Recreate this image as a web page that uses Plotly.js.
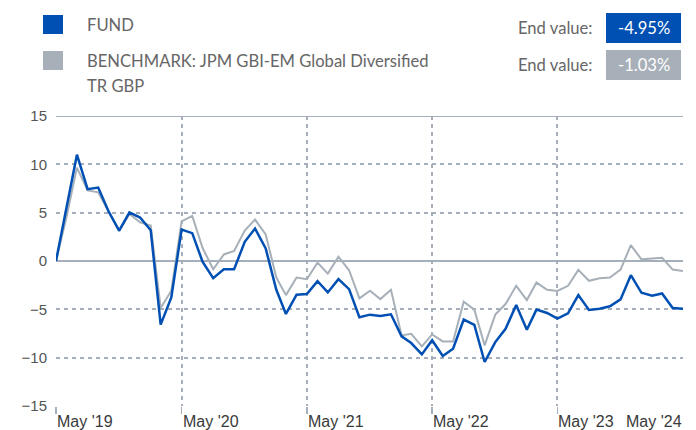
<!DOCTYPE html>
<html>
<head>
<meta charset="utf-8">
<script src="https://cdn.plot.ly/plotly-3.0.1.min.js"></script>
<style>
html,body{margin:0;padding:0;background:#fff;}
#chart{width:696px;height:430px;}
</style>
</head>
<body>
<div id="chart"></div>
<script>
// ---- data ----
const months = [
 "2019-05-01","2019-06-01","2019-07-01","2019-08-01","2019-09-01","2019-10-01","2019-11-01","2019-12-01",
 "2020-01-01","2020-02-01","2020-03-01","2020-04-01","2020-05-01","2020-06-01","2020-07-01","2020-08-01",
 "2020-09-01","2020-10-01","2020-11-01","2020-12-01","2021-01-01","2021-02-01","2021-03-01","2021-04-01",
 "2021-05-01","2021-06-01","2021-07-01","2021-08-01","2021-09-01","2021-10-01","2021-11-01","2021-12-01",
 "2022-01-01","2022-02-01","2022-03-01","2022-04-01","2022-05-01","2022-06-01","2022-07-01","2022-08-01",
 "2022-09-01","2022-10-01","2022-11-01","2022-12-01","2023-01-01","2023-02-01","2023-03-01","2023-04-01",
 "2023-05-01","2023-06-01","2023-07-01","2023-08-01","2023-09-01","2023-10-01","2023-11-01","2023-12-01",
 "2024-01-01","2024-02-01","2024-03-01","2024-04-01","2024-05-01"
];
const fund = [
 0, 5.5, 11.0, 7.43, 7.6, 5.14, 3.15, 5.03, 4.5, 3.18, -6.58, -3.77,
 3.25, 2.88, -0.07, -1.78, -0.86, -0.86, 1.99, 3.36, 1.3, -2.98, -5.48, -3.49,
 -3.42, -2.09, -3.25, -1.88, -2.91, -5.82, -5.55, -5.68, -5.51, -7.8, -8.49, -9.66,
 -8.2, -9.83, -9.08, -6.06, -6.61, -10.45, -8.39, -7.02, -4.55, -7.12, -5.03, -5.38,
 -5.96, -5.41, -3.53, -5.07, -4.93, -4.69, -3.97, -1.47, -3.29, -3.6, -3.36, -4.86, -4.95
];
const benchmark = [
 0, 4.6, 9.66, 7.3, 7.1, 5.1, 3.1, 4.86, 4.0, 3.66, -4.86, -3.08,
 4.1, 4.66, 1.37, -0.86, 0.68, 1.03, 3.15, 4.28, 2.74, -1.71, -3.53, -1.71,
 -1.88, -0.17, -1.3, 0.45, -0.96, -3.87, -3.08, -3.94, -2.98, -7.7, -7.53, -8.84,
 -7.6, -8.32, -8.32, -4.21, -5.03, -8.73, -5.55, -4.45, -2.57, -4.04, -2.23, -2.98,
 -3.1, -2.57, -0.92, -2.05, -1.78, -1.71, -0.89, 1.64, 0.17, 0.27, 0.34, -0.89, -1.03
];
const seriesNames = ["FUND", "BENCHMARK: JPM GBI-EM Global Diversified", "TR GBP"];
const endValues = ["-4.95%", "-1.03%"];
const tickDates = ["2019-05-01","2020-05-01","2021-05-01","2022-05-01","2023-05-01","2024-05-01"];
const tickLabels = ["May '19","May '20","May '21","May '22","May '23","May '24"];
const yTicks = [-15,-10,-5,0,5,10,15];

// ---- style ----
const BLUE = "#0050B4", GREY = "#A7B0B9", GRID = "#A5AFBB";
const L = 56, R = 683, T = 116, B = 406;
const px = x => (x - L) / (R - L);
const py = y => (B - y) / (B - T);
const legendFont = {family: "Lato, 'Noto Sans', sans-serif", size: 16.6, color: "#666"};

const traces = [
  {x: months, y: benchmark, type: "scatter", mode: "lines", name: seriesNames[1],
   line: {color: GREY, width: 2}, hoverinfo: "skip"},
  {x: months, y: fund, type: "scatter", mode: "lines", name: seriesNames[0],
   line: {color: BLUE, width: 2.5}, hoverinfo: "skip"}
];

const annotations = tickLabels.map((t, i) => ({
  x: tickDates[i], xref: "x", y: py(421), yref: "paper",
  text: t, showarrow: false,
  xanchor: i === tickLabels.length - 1 ? "right" : "left", yanchor: "middle",
  xshift: i === tickLabels.length - 1 ? 1 : -1,
  font: {family: "'Liberation Sans', Arial, sans-serif", size: 16, color: "#3a3a3a"}
}));
annotations.push(
  {x: px(85), y: py(25), xref: "paper", yref: "paper", text: seriesNames[0], showarrow: false,
   xanchor: "left", yanchor: "middle", font: legendFont},
  {x: px(85), y: py(61), xref: "paper", yref: "paper", text: seriesNames[1], showarrow: false,
   xanchor: "left", yanchor: "middle", font: legendFont},
  {x: px(85), y: py(86), xref: "paper", yref: "paper", text: seriesNames[2], showarrow: false,
   xanchor: "left", yanchor: "middle", font: legendFont},
  {x: px(594), y: py(28), xref: "paper", yref: "paper", text: "End value:", showarrow: false,
   xanchor: "right", yanchor: "middle", font: legendFont},
  {x: px(594), y: py(65), xref: "paper", yref: "paper", text: "End value:", showarrow: false,
   xanchor: "right", yanchor: "middle", font: legendFont},
  {x: px(643.5), y: py(28), xref: "paper", yref: "paper", text: endValues[0], showarrow: false,
   xanchor: "center", yanchor: "middle", font: {family: legendFont.family, size: 16.6, color: "#fff"}},
  {x: px(643.5), y: py(65), xref: "paper", yref: "paper", text: endValues[1], showarrow: false,
   xanchor: "center", yanchor: "middle", font: {family: legendFont.family, size: 16.6, color: "#fff"}}
);

const shapes = [
  {type: "line", xref: "paper", x0: 0, x1: 1, yref: "y", y0: 15, y1: 15,
   line: {color: GRID, width: 2}, layer: "below"},
  {type: "rect", xref: "paper", yref: "paper", x0: px(43), x1: px(63), y0: py(34), y1: py(15),
   fillcolor: BLUE, line: {width: 0}},
  {type: "rect", xref: "paper", yref: "paper", x0: px(43), x1: px(63), y0: py(70), y1: py(51),
   fillcolor: GREY, line: {width: 0}},
  {type: "rect", xref: "paper", yref: "paper", x0: px(606), x1: px(681), y0: py(43), y1: py(13),
   fillcolor: BLUE, line: {width: 0}},
  {type: "rect", xref: "paper", yref: "paper", x0: px(606), x1: px(681), y0: py(80), y1: py(50),
   fillcolor: GREY, line: {width: 0}}
];

const layout = {
  width: 696, height: 430,
  margin: {l: L, r: 696 - R, t: T, b: 430 - B, pad: 0},
  paper_bgcolor: "#fff", plot_bgcolor: "#fff",
  showlegend: false,
  xaxis: {
    type: "date", range: [tickDates[0], tickDates[tickDates.length - 1]],
    tickmode: "array", tickvals: tickDates.slice(0, -1), ticktext: tickLabels.slice(0, -1),
    showticklabels: false, showgrid: true, gridcolor: GRID, gridwidth: 2, griddash: "4px,4px",
    ticks: "outside", ticklen: 7, tickcolor: GRID, tickwidth: 1.5,
    zeroline: false, showline: false, fixedrange: true
  },
  yaxis: {
    range: [-15, 15], tickmode: "array", tickvals: yTicks,
    showgrid: true, gridcolor: GRID, gridwidth: 2, griddash: "4px,4px",
    zeroline: true, zerolinecolor: GRID, zerolinewidth: 2,
    ticks: "", ticklabelstandoff: 8,
    tickfont: {family: "'Liberation Sans', Arial, sans-serif", size: 15, color: "#555"},
    showline: false, fixedrange: true
  },
  shapes: shapes,
  annotations: annotations
};

Plotly.newPlot("chart", traces, layout, {staticPlot: true, displayModeBar: false});
</script>
</body>
</html>
